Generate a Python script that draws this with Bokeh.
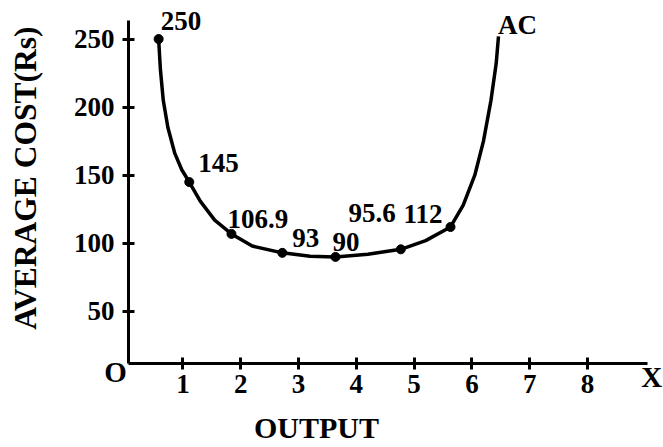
from bokeh.plotting import figure
from bokeh.models import (ColumnDataSource, FixedTicker, LabelSet, Label,
                          Range1d)
from bokeh.embed import file_html
from bokeh.resources import INLINE
import math

# Average cost schedule
output_qty = [0.58, 1.11, 1.84, 2.72, 3.64, 4.77, 5.63]
avg_cost = [250, 145, 106.9, 93, 90, 95.6, 112]
cost_labels = ["250", "145", "106.9", "93", "90", "95.6", "112"]

# label placement (pixel offsets from each point)
label_dx = [2, 9, -4, 10, -3, -5, -8]
label_dy = [9, 10, 6, 6, 6, 27, 4]
label_align = ["left", "left", "left", "left", "left", "right", "right"]

# AC curve traced through the schedule points
curve_x = [0.58, 0.61, 0.66, 0.74, 0.86, 0.98, 1.11, 1.3, 1.55, 1.84, 2.2,
           2.72, 3.2, 3.64, 4.2, 4.77, 5.2, 5.63, 5.85, 6.05, 6.2, 6.33,
           6.42, 6.46]
curve_y = [250, 228, 205, 185, 166, 154, 145, 131, 117, 106.9, 98,
           93, 90.5, 90, 92, 95.6, 102, 112, 128, 150, 175, 205,
           232, 252]

x_ticks = [1, 2, 3, 4, 5, 6, 7, 8]
y_ticks = [50, 100, 150, 200, 250]

FONT = "Liberation Serif"

# where the two axes meet (data units)
X0, Y0 = 0.06, 11.7

# the plotting area spans the whole canvas; the axes sit at fixed locations
p = figure(width=663, height=447, output_backend="svg", toolbar_location=None,
           x_range=Range1d(-2.156, 9.315), y_range=Range1d(-49.93, 278.3),
           min_border_left=0, min_border_right=0, min_border_top=0,
           min_border_bottom=0)
p.outline_line_color = None
p.grid.visible = False
p.background_fill_color = "white"
p.border_fill_color = "white"

p.xaxis.fixed_location = Y0
p.yaxis.fixed_location = X0

for ax, ticks, bnds in ((p.xaxis[0], x_ticks, (X0, 9.04)),
                        (p.yaxis[0], y_ticks, (Y0, 263.6))):
    ax.ticker = FixedTicker(ticks=ticks)
    ax.bounds = bnds
    ax.axis_line_width = 3
    ax.axis_line_color = "black"
    ax.major_tick_line_width = 3
    ax.major_tick_line_color = "black"
    ax.major_tick_in = 6
    ax.major_tick_out = 6
    ax.minor_tick_line_color = None
    ax.major_label_text_font = FONT
    ax.major_label_text_font_style = "bold"
    ax.major_label_text_font_size = "27px"
    ax.major_label_text_color = "black"
p.xaxis.major_label_standoff = 5
p.yaxis.major_label_standoff = 8

p.line(curve_x, curve_y, line_width=3.5, line_color="black")
p.scatter(output_qty, avg_cost, size=9, color="black")

src = ColumnDataSource(dict(x=output_qty, y=avg_cost, t=cost_labels,
                            dx=label_dx, dy=label_dy, al=label_align))
p.add_layout(LabelSet(x="x", y="y", text="t", source=src,
                      x_offset="dx", y_offset="dy", text_align="al",
                      text_baseline="alphabetic", text_font=FONT,
                      text_font_style="bold", text_font_size="27px",
                      text_color="black"))


def txt(x, y, s, size="29px", align="left", baseline="alphabetic", angle=0.0):
    p.add_layout(Label(x=x, y=y, text=s, text_font=FONT,
                       text_font_style="bold", text_font_size=size,
                       text_align=align, text_baseline=baseline,
                       text_color="black", angle=angle))


txt(6.45, 260.1, "AC", size="27px")
txt(-0.166, 5.2, "O", size="29px", align="center")
txt(8.93, 1.5, "X", size="29px")
txt(3.31, -35.2, "OUTPUT", size="30px", align="center")
txt(-1.72, 147.9, "AVERAGE COST(Rs)", size="31.5px", align="center",
    baseline="middle", angle=math.pi / 2)

open("out.html", "w").write(file_html(p, INLINE))
